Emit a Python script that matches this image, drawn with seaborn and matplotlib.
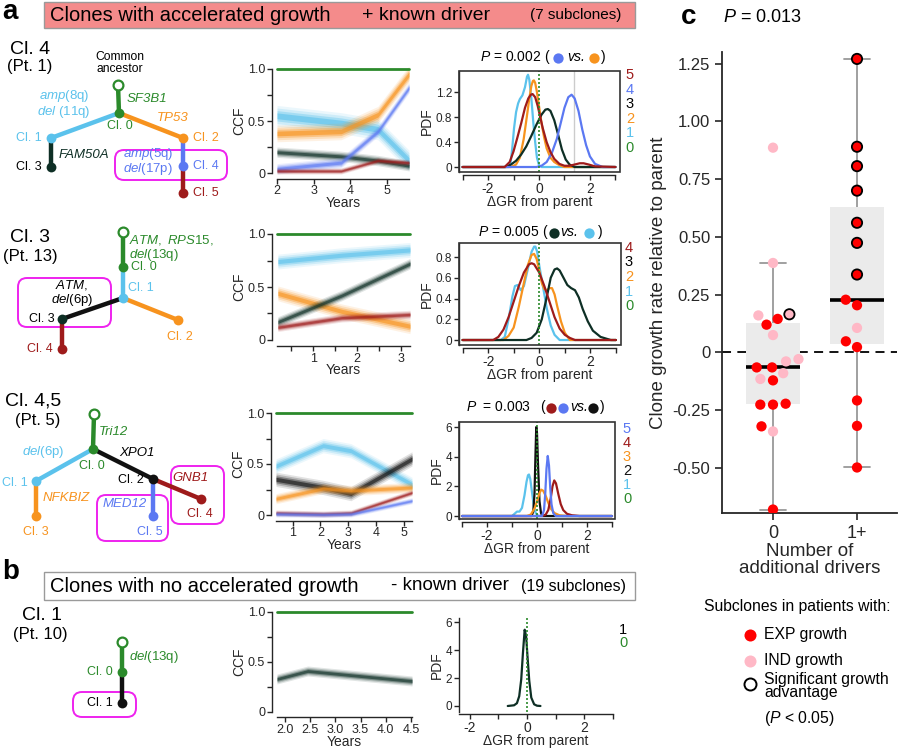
import numpy as np
import pandas as pd
import matplotlib
matplotlib.use("Agg")
import matplotlib.pyplot as plt
import seaborn as sns
from matplotlib.patches import FancyBboxPatch, Rectangle

sns.set_style("ticks")
plt.rcParams["font.family"] = ["Liberation Sans", "DejaVu Sans"]
plt.rcParams["mathtext.fontset"] = "custom"
plt.rcParams["mathtext.rm"] = "Liberation Sans"
plt.rcParams["mathtext.it"] = "Liberation Sans:italic"
plt.rcParams["axes.linewidth"] = 1.0

# ======================= DATA =======================
# ---- panel a, row 1 (Pt. 1): CCF trajectories (posterior centre) ----
r1_years = [2.0, 3.75, 4.75, 5.6]
r1_ccf = {1: [0.55, 0.48, 0.42, 0.12], 2: [0.38, 0.40, 0.56, 0.95],
          3: [0.20, 0.16, 0.12, 0.07], 4: [0.04, 0.10, 0.40, 0.82],
          5: [0.02, 0.02, 0.12, 0.10]}
r1_spread = {1: 0.10, 2: 0.08, 3: 0.05, 4: 0.05, 5: 0.03}
# ---- row 2 (Pt. 13) ----
r2_years = [0.2, 1.65, 3.2]
r2_ccf = {1: [0.74, 0.80, 0.85], 2: [0.44, 0.27, 0.13],
          3: [0.17, 0.42, 0.72], 4: [0.12, 0.21, 0.24]}
r2_spread = {1: 0.07, 2: 0.07, 3: 0.05, 4: 0.04}
# ---- row 3 (Pt. 5) ----
r3_years = [0.4, 2.1, 3.1, 5.3]
r3_ccf = {1: [0.48, 0.68, 0.63, 0.30], 2: [0.35, 0.27, 0.21, 0.55],
          3: [0.16, 0.26, 0.24, 0.27], 4: [0.02, 0.01, 0.02, 0.22],
          5: [0.01, 0.005, 0.01, 0.14]}
r3_spread = {1: 0.07, 2: 0.07, 3: 0.05, 4: 0.03, 5: 0.03}
# ---- panel b (Pt. 10) ----
rb_years = [1.84, 2.45, 4.52]
rb_ccf = {1: [0.33, 0.41, 0.31]}
rb_spread = {1: 0.05}

# ---- posterior densities of delta growth rate ----
r1_pdf = {
    1: ([-3, -1.2, -1.12, -1.05, -0.98, -0.9, -0.82, -0.75, -0.65, -0.55, -0.47, -0.43, -0.38, -0.3, -0.22, -0.15, -0.08, 0.0, 0.1, 3],
        [0, 0, 0.05, 0.3, 0.62, 0.88, 1.02, 1.09, 1.15, 1.28, 1.45, 1.48, 1.4, 1.1, 0.7, 0.4, 0.15, 0.03, 0, 0]),
    2: ([-3, -1.1, -0.9, -0.75, -0.6, -0.48, -0.38, -0.3, -0.24, -0.2, -0.15, -0.08, 0.0, 0.1, 0.2, 0.3, 0.45, 0.6, 0.8, 1.0, 3],
        [0, 0, 0.04, 0.15, 0.45, 0.8, 1.1, 1.3, 1.38, 1.39, 1.35, 1.2, 0.98, 0.7, 0.48, 0.3, 0.15, 0.08, 0.03, 0, 0]),
    3: ([-3, -1.3, -1.1, -0.9, -0.7, -0.5, -0.3, -0.1, 0.1, 0.25, 0.35, 0.45, 0.6, 0.75, 0.9, 1.05, 1.2, 1.4, 3],
        [0, 0, 0.04, 0.1, 0.2, 0.33, 0.5, 0.68, 0.84, 0.92, 0.93, 0.9, 0.75, 0.52, 0.28, 0.12, 0.04, 0.0, 0]),
    4: ([-3, -0.1, 0.1, 0.3, 0.5, 0.7, 0.85, 1.0, 1.15, 1.28, 1.4, 1.55, 1.7, 1.85, 2.0, 2.2, 2.5, 3],
        [0, 0, 0.02, 0.08, 0.22, 0.45, 0.7, 0.95, 1.12, 1.16, 1.1, 0.9, 0.6, 0.35, 0.17, 0.05, 0, 0]),
    5: ([-3, -1.35, -1.15, -1.0, -0.85, -0.7, -0.55, -0.42, -0.32, -0.25, -0.15, -0.05, 0.05, 0.15, 0.3, 0.45, 0.6, 0.8, 1.0, 1.2, 1.4, 1.6, 1.75, 1.95, 2.2, 3],
        [0, 0, 0.08, 0.25, 0.47, 0.7, 0.95, 1.1, 1.16, 1.17, 1.12, 0.98, 0.8, 0.62, 0.4, 0.24, 0.13, 0.05, 0.02, 0.02, 0.04, 0.06, 0.06, 0.04, 0.01, 0]),
}
r2_pdf = {
    1: ([-3, -1.5, -1.35, -1.2, -1.05, -0.95, -0.85, -0.72, -0.6, -0.45, -0.3, -0.2, -0.15, -0.08, 0.0, 0.1, 0.2, 0.3, 0.45, 0.6, 0.8, 3],
        [0, 0, 0.03, 0.2, 0.42, 0.52, 0.53, 0.48, 0.52, 0.68, 0.85, 0.9, 0.9, 0.85, 0.72, 0.58, 0.44, 0.3, 0.14, 0.05, 0, 0]),
    2: ([-3, -1.4, -1.2, -1.0, -0.8, -0.6, -0.45, -0.3, -0.2, -0.1, 0.0, 0.1, 0.2, 0.3, 0.4, 0.5, 0.6, 0.7, 0.85, 1.0, 1.2, 3],
        [0, 0, 0.04, 0.12, 0.32, 0.55, 0.72, 0.82, 0.83, 0.78, 0.67, 0.55, 0.49, 0.48, 0.5, 0.5, 0.44, 0.33, 0.18, 0.07, 0, 0]),
    3: ([-3, -0.5, -0.3, -0.1, 0.1, 0.3, 0.45, 0.6, 0.7, 0.8, 0.95, 1.1, 1.25, 1.4, 1.55, 1.7, 1.9, 2.1, 2.4, 2.8, 3],
        [0, 0, 0.02, 0.07, 0.2, 0.42, 0.6, 0.68, 0.69, 0.67, 0.6, 0.53, 0.5, 0.48, 0.41, 0.3, 0.18, 0.09, 0.03, 0.0, 0]),
    4: ([-3, -1.8, -1.6, -1.4, -1.2, -1.0, -0.8, -0.6, -0.4, -0.3, -0.2, 0.0, 0.2, 0.4, 0.6, 0.8, 1.0, 1.2, 1.4, 3],
        [0, 0, 0.03, 0.1, 0.22, 0.37, 0.52, 0.65, 0.73, 0.74, 0.73, 0.65, 0.52, 0.37, 0.22, 0.11, 0.05, 0.02, 0, 0]),
}
r3_pdf = {
    1: ([-3, -1.0, -0.9, -0.8, -0.7, -0.6, -0.5, -0.42, -0.36, -0.32, -0.27, -0.2, -0.13, -0.05, 0.05, 3],
        [0, 0, 0.15, 0.3, 0.3, 0.55, 1.4, 2.3, 2.75, 2.8, 2.5, 1.6, 0.7, 0.2, 0, 0]),
    2: ([-3, -0.22, -0.15, -0.1, -0.06, -0.03, 0.0, 0.04, 0.1, 0.16, 0.22, 3],
        [0, 0, 0.3, 1.5, 4.2, 6.0, 5.6, 3.5, 1.0, 0.2, 0, 0]),
    3: ([-3, -0.4, -0.25, -0.1, 0.0, 0.1, 0.17, 0.25, 0.35, 0.45, 0.55, 0.7, 0.9, 1.2, 3],
        [0, 0, 0.1, 0.5, 1.0, 1.55, 1.78, 1.7, 1.35, 0.9, 0.5, 0.2, 0.05, 0, 0]),
    4: ([-3, 0.2, 0.35, 0.45, 0.55, 0.62, 0.69, 0.76, 0.85, 0.95, 1.05, 1.2, 1.4, 1.7, 3],
        [0, 0, 0.1, 0.4, 1.2, 2.0, 2.4, 2.2, 1.5, 0.8, 0.4, 0.15, 0.05, 0, 0]),
    5: ([-3, 0.2, 0.28, 0.33, 0.38, 0.43, 0.48, 0.53, 0.58, 0.65, 0.75, 3],
        [0, 0, 0.4, 1.5, 3.2, 4.05, 3.4, 1.9, 0.8, 0.2, 0, 0]),
}
rb_pdf = {
    1: ([-0.67, -0.45, -0.35, -0.27, -0.2, -0.14, -0.08, -0.03, 0.02, 0.08, 0.15, 0.25, 0.35, 0.47],
        [0, 0.05, 0.2, 0.7, 1.9, 3.8, 5.45, 5.0, 3.5, 1.8, 0.6, 0.12, 0.02, 0]),
}

# ---- panel c: growth rate relative to parent ----
c_drivers = ["0"] * 20 + ["1+"] * 15
c_rate = [0.886, 0.387, 0.165, 0.16, 0.145, 0.12, 0.075, -0.029, -0.039, -0.065,
          -0.065, -0.09, -0.115, -0.121, -0.222, -0.226, -0.226, -0.32, -0.342, -0.68,
          1.27, 0.89, 0.806, 0.70, 0.561, 0.474, 0.337, 0.228, 0.204, 0.106,
          0.048, 0.023, -0.208, -0.318, -0.498]
c_growth = ["IND", "IND", "IND", "IND", "EXP", "EXP", "IND", "IND", "IND", "EXP",
            "EXP", "IND", "IND", "EXP", "EXP", "EXP", "EXP", "EXP", "IND", "EXP",
            "EXP", "EXP", "EXP", "EXP", "EXP", "EXP", "EXP", "EXP", "EXP", "IND",
            "EXP", "EXP", "EXP", "EXP", "EXP"]
c_signif = [False, False, True, False, False, False, False, False, False, False,
            False, False, False, False, False, False, False, False, False, False,
            True, True, True, True, True, True, True, False, False, False,
            False, False, False, False, False]

# ======================= STYLE =======================
GREEN = "#2b8a2b"
LBLUE = "#5bc2ec"
ORANGE = "#f7931e"
DARK = "#0e2f25"
BLACK = "#111111"
BLUE = "#5b78f2"
DRED = "#9e1b1b"
MAG = "#ee22ee"

r1_col = {0: GREEN, 1: LBLUE, 2: ORANGE, 3: DARK, 4: BLUE, 5: DRED}
r2_col = {0: GREEN, 1: LBLUE, 2: ORANGE, 3: DARK, 4: DRED}
r3_col = {0: GREEN, 1: LBLUE, 2: BLACK, 3: ORANGE, 4: DRED, 5: BLUE}
rb_col = {0: GREEN, 1: DARK}

W, H = 900, 749
fig = plt.figure(figsize=(9, 7.49), dpi=100)


def rect_px(l, t, r, b):
    return [l / W, 1 - b / H, (r - l) / W, (b - t) / H]


ov = fig.add_axes([0, 0, 1, 1])
ov.set_xlim(0, W)
ov.set_ylim(H, 0)
ov.axis("off")


def txt(x, y, s, c="black", size=9, ha="left", va="center", **kw):
    ov.text(x, y, s, color=c, fontsize=size, ha=ha, va=va, **kw)


# ---------------- headers ----------------
txt(10, 12, "a", size=20, ha="center", weight="bold")
txt(11, 572, "b", size=20, ha="center", weight="bold")
txt(689, 17, "c", size=20, ha="center", weight="bold")
ov.add_patch(Rectangle((44, 2), 591, 26, fc="#f48b8b", ec="#9a9a9a", lw=1))
txt(50, 15.5, "Clones with accelerated growth", size=14.5)
txt(362, 15.5, "+ known driver", size=14)
txt(530, 15.5, "(7 subclones)", size=11)
ov.add_patch(Rectangle((44, 572), 591, 28, fc="white", ec="#9a9a9a", lw=1))
txt(50, 586, "Clones with no accelerated growth", size=14.5)
txt(391, 586, "- known driver", size=13.5)
txt(521, 587, "(19 subclones)", size=11.5)

# ---------------- trees ----------------
def edge(a, b, c):
    ov.plot([a[0], b[0]], [a[1], b[1]], color=c, lw=3.2, solid_capstyle="butt", zorder=2)


def node(p, c, hollow=False):
    ov.scatter([p[0]], [p[1]], s=50, facecolor="white" if hollow else c,
               edgecolor=c, linewidth=1.6 if hollow else 0, zorder=3)


def rbox(x0, y0, x1, y1):
    ov.add_patch(FancyBboxPatch((x0, y0), x1 - x0, y1 - y0,
                                boxstyle="round,pad=0,rounding_size=9",
                                fc="none", ec=MAG, lw=1.4, zorder=1))


IT = dict(fontstyle="italic")
NS = 9  # node label size
MS = 9.5  # mutation label size
LS = 0.92  # line spacing of two-line labels

# tree 1
T = dict(anc=(118, 85), c0=(119, 113), c1=(51, 138), c3=(51, 167),
         c2=(183, 138), c4=(183, 166), c5=(183, 193))
edge(T["anc"], T["c0"], GREEN); edge(T["c0"], T["c1"], LBLUE)
edge(T["c1"], T["c3"], DARK); edge(T["c0"], T["c2"], ORANGE)
edge(T["c2"], T["c4"], BLUE); edge(T["c4"], T["c5"], DRED)
node(T["anc"], GREEN, True); node(T["c0"], GREEN); node(T["c1"], LBLUE)
node(T["c3"], DARK); node(T["c2"], ORANGE); node(T["c4"], BLUE); node(T["c5"], DRED)
rbox(115, 150, 227, 180)
txt(30, 50, "Cl. 4", size=14, ha="center")
txt(30, 67, "(Pt. 1)", size=12, ha="center")
txt(120, 63, "Common\nancestor", size=8.7, ha="center", linespacing=1.0)
txt(127, 99, "SF3B1", GREEN, MS, **IT)
txt(120, 126, "Cl. 0", GREEN, NS, ha="center")
txt(90, 104, "$\\mathit{amp}$(8q)\n$\\mathit{del}$ (11q)", LBLUE, MS, ha="right",
    multialignment="right", linespacing=LS)
txt(42, 138, "Cl. 1", LBLUE, NS, ha="right")
txt(59, 155, "FAM50A", DARK, MS, **IT)
txt(42, 167, "Cl. 3", "black", NS, ha="right")
txt(173, 118, "TP53", ORANGE, MS, ha="center", **IT)
txt(193, 138, "Cl. 2", ORANGE, NS)
txt(193, 166, "Cl. 4", BLUE, NS)
txt(148, 161.5, "$\\mathit{amp}$(5q)\n$\\mathit{del}$(17p)", BLUE, MS, ha="center",
    multialignment="center", linespacing=LS)
txt(193, 193, "Cl. 5", DRED, NS)

# tree 2
T = dict(anc=(123, 232), c0=(123, 267), c1=(123, 298), c2=(178, 320),
         c3=(62, 319), c4=(62, 349))
edge(T["anc"], T["c0"], GREEN); edge(T["c0"], T["c1"], LBLUE)
edge(T["c1"], T["c2"], ORANGE); edge(T["c1"], T["c3"], BLACK)
edge(T["c3"], T["c4"], DRED)
node(T["anc"], GREEN, True); node(T["c0"], GREEN); node(T["c1"], LBLUE)
node(T["c2"], ORANGE); node(T["c3"], DARK); node(T["c4"], DRED)
rbox(18, 278, 111, 327)
txt(30, 238, "Cl. 3", size=14, ha="center")
txt(30, 256, "(Pt. 13)", size=12, ha="center")
txt(129, 248, "$\\mathit{ATM,}$ $\\mathit{RPS15,}$\n$\\mathit{del}$(13q)", GREEN, MS,
    linespacing=LS)
txt(131, 267, "Cl. 0", GREEN, NS)
txt(128, 288, "Cl. 1", LBLUE, NS)
txt(180, 337, "Cl. 2", ORANGE, NS, ha="center")
txt(72, 293, "$\\mathit{ATM,}$\n$\\mathit{del}$(6p)", "black", MS, ha="center",
    multialignment="center", linespacing=LS)
txt(55, 319, "Cl. 3", "black", NS, ha="right")
txt(53, 349, "Cl. 4", DRED, NS, ha="right")

# tree 3
T = dict(anc=(94, 414), c0=(93, 449), c1=(36, 481), c3=(36, 516),
         c2=(153, 479), c5=(153, 516), c4=(201, 499))
edge(T["anc"], T["c0"], GREEN); edge(T["c0"], T["c1"], LBLUE)
edge(T["c1"], T["c3"], ORANGE); edge(T["c0"], T["c2"], BLACK)
edge(T["c2"], T["c5"], BLUE); edge(T["c2"], T["c4"], DRED)
node(T["anc"], GREEN, True); node(T["c0"], GREEN); node(T["c1"], LBLUE)
node(T["c3"], ORANGE); node(T["c2"], BLACK); node(T["c5"], BLUE); node(T["c4"], DRED)
rbox(97, 495, 168, 541)
rbox(171, 466, 224, 524)
txt(33, 401, "Cl. 4,5", size=14, ha="center")
txt(38, 420, "(Pt. 5)", size=12, ha="center")
txt(99, 432, "Tri12", GREEN, MS, **IT)
txt(92, 466, "Cl. 0", GREEN, NS, ha="center")
txt(64, 452, r"$\mathit{del}$(6p)", LBLUE, MS, ha="right")
txt(28, 483, "Cl. 1", LBLUE, NS, ha="right")
txt(43, 498, "NFKBIZ", ORANGE, MS, **IT)
txt(36, 532, "Cl. 3", ORANGE, NS, ha="center")
txt(137, 453, "XPO1", "black", MS, ha="center", **IT)
txt(144, 480, "Cl. 2", "black", NS, ha="right")
txt(125, 504, "MED12", BLUE, MS, ha="center", **IT)
txt(150, 532, "Cl. 5", BLUE, NS, ha="center")
txt(190, 478, "GNB1", DRED, MS, ha="center", **IT)
txt(200, 514, "Cl. 4", DRED, NS, ha="center")

# tree b
T = dict(anc=(122, 642), c0=(122, 672), c1=(122, 703))
edge(T["anc"], T["c0"], GREEN); edge(T["c0"], T["c1"], BLACK)
node(T["anc"], GREEN, True); node(T["c0"], GREEN); node(T["c1"], BLACK)
rbox(73, 692, 136, 717)
txt(42, 615, "Cl. 1", size=14, ha="center")
txt(40, 634, "(Pt. 10)", size=12, ha="center")
txt(129, 657, r"$\mathit{del}$(13q)", GREEN, MS)
txt(113, 672, "Cl. 0", GREEN, NS, ha="right")
txt(113, 703, "Cl. 1", "black", NS, ha="right")


# ---------------- CCF panels ----------------
def ccf_panel(x0, x1, y1px, y0px, xlim, xticks, xlabels, years, ccf, spread, cols):
    h = y0px - y1px
    ax = fig.add_axes(rect_px(x0, y1px - 0.02 * h, x1, y0px + 0.02 * h))
    ax.set_facecolor("none")
    ax.set_xlim(*xlim)
    ax.set_ylim(-0.02, 1.02)
    t = np.array(years, dtype=float)
    for k in ccf:
        m = np.array(ccf[k], dtype=float)
        s = spread[k]
        for w, a in [(1.0, 0.12), (0.75, 0.2), (0.5, 0.35), (0.28, 0.6)]:
            ax.fill_between(t, m - w * s, m + w * s, color=cols[k], alpha=a, lw=0)
    ax.plot(list(xlim), [1.0, 1.0], color=GREEN, lw=2, clip_on=False)
    for sp in ["top", "right"]:
        ax.spines[sp].set_visible(False)
    ax.spines["left"].set_position(("outward", 3.6))
    ax.spines["bottom"].set_position(("outward", 2.5))
    ax.spines["left"].set_bounds(0, 1)
    ax.set_yticks([0, 0.25, 0.5, 0.75, 1.0])
    ax.set_yticklabels(["0", "", "0.5", "", "1.0"], fontsize=9)
    ax.set_xticks(xticks)
    ax.set_xticklabels(xlabels, fontsize=9)
    ax.tick_params(length=3.5, width=1, pad=1.5)
    ax.set_ylabel("CCF", fontsize=10, labelpad=1)
    ax.set_xlabel("Years", fontsize=10, labelpad=-1)
    return ax


ccf_panel(277, 409, 69, 173, (2, 5.6), [2, 3, 4, 5], ["2", "3", "4", "5"],
          r1_years, r1_ccf, r1_spread, r1_col)
ccf_panel(277, 410, 234, 340, (0.18, 3.2), [0.5, 1, 1.5, 2, 2.5, 3],
          ["", "1", "", "2", "", "3"], r2_years, r2_ccf, r2_spread, r2_col)
ccf_panel(276, 412, 413, 515, (0.4, 5.3), [1, 2, 3, 4, 5], ["1", "2", "3", "4", "5"],
          r3_years, r3_ccf, r3_spread, r3_col)
ccf_panel(277, 412, 612, 712, (1.84, 4.52), [2.0, 2.5, 3.0, 3.5, 4.0, 4.5],
          ["2.0", "2.5", "3.0", "3.5", "4.0", "4.5"], rb_years, rb_ccf, rb_spread, rb_col)


# ---------------- PDF panels ----------------
def pdf_panel(l, r, t, b, xlim, ylim, yticks, ylabels, pdfs, cols, box=True,
              xticks=(-3, -2, -1, 0, 1, 2, 3), vline=None):
    ax = fig.add_axes(rect_px(l, t, r, b))
    ax.set_facecolor("none")
    ax.set_xlim(*xlim)
    ax.set_ylim(*ylim)
    if vline is not None:
        ax.axvline(vline, color="#cccccc", lw=1, zorder=1)
    ax.axvline(0, color=GREEN, ls=(0, (1.2, 1.2)), lw=1.2, zorder=4)
    for k in sorted(pdfs):
        xs, ys = pdfs[k]
        ax.plot(xs, ys, color=cols[k], lw=1.6, zorder=3)
    if box:
        ax.add_patch(Rectangle((0, 0), 1, 1, transform=ax.transAxes, fill=False,
                               ec="#333333", lw=1.2, clip_on=False, zorder=5))
        for sp in ["top", "right"]:
            ax.spines[sp].set_visible(False)
        ax.spines["bottom"].set_position(("outward", 2.2))
        ax.spines["bottom"].set_bounds(-3, 3)
    else:
        for sp in ["top", "right"]:
            ax.spines[sp].set_visible(False)
        ax.spines["bottom"].set_position(("outward", 1.5))
    ax.set_yticks(yticks)
    ax.set_yticklabels(ylabels, fontsize=8.5)
    ax.set_xticks(list(xticks))
    ax.set_xticklabels(["-2" if v == -2 else "0" if v == 0 else "2" if v == 2 else ""
                        for v in xticks], fontsize=10)
    ax.tick_params(length=3.5, width=1, pad=1.5)
    ax.set_ylabel("PDF", fontsize=10, labelpad=1)
    ax.set_xlabel("\u0394GR from parent", fontsize=10, labelpad=-1)
    return ax


pdf_panel(459, 620, 71, 172, (-3.14, 3.18), (-0.08, 1.54), [0, 0.4, 0.8, 1.2],
          ["0", "0.4", "0.8", "1.2"], r1_pdf, r1_col, vline=1.37)
pdf_panel(459, 621, 243, 345, (-3.14, 3.2), (-0.048, 0.935), [0, 0.2, 0.4, 0.6, 0.8],
          ["0", "0.2", "0.4", "0.6", "0.8"], r2_pdf, r2_col)
pdf_panel(459, 615, 422, 519, (-3.12, 3.12), (-0.2, 6.34), [0, 2, 4, 6],
          ["0", "2", "4", "6"], r3_pdf, r3_col)
pdf_panel(459, 613, 618, 712, (-2.37, 2.99), (-0.43, 6.29), [0, 2, 4, 6],
          ["0", "2", "4", "6"], rb_pdf, rb_col, box=False, xticks=(-2, -1, 0, 1, 2, 3))

# clone number keys right of the PDFs
def key(x, ytop, step, order, cols):
    for i, k in enumerate(order):
        txt(x, ytop + i * step, str(k), cols[k], 10.5, ha="center")

key(630, 75, 14.6, [5, 4, 3, 2, 1, 0], {**r1_col, 3: "black"})
key(629, 248, 14.5, [4, 3, 2, 1, 0], {**r2_col, 3: "black"})
key(627, 429, 14.0, [5, 4, 3, 2, 1, 0], r3_col)
key(623, 630, 13.0, [1, 0], {0: GREEN, 1: "black"})

# P-value titles
def dot(x, y, c):
    ov.scatter([x], [y], s=55, color=c, lw=0, zorder=3)

PT = 10
txt(480, 57, r"$P$ = 0.002", size=PT); txt(544, 57, "(", size=PT)
dot(558, 58, BLUE); txt(567, 57, "vs.", size=PT, **IT); dot(594, 58, ORANGE)
txt(601, 57, ")", size=PT)
txt(478, 232, r"$P$ = 0.005", size=PT); txt(542, 232, "(", size=PT)
dot(554, 233, DARK); txt(560, 232, "vs.", size=PT, **IT); dot(589, 233, LBLUE)
txt(598, 232, ")", size=PT)
txt(466, 407, r"$P$  = 0.003", size=PT); txt(540, 407, "(", size=PT)
dot(551, 408, DRED); dot(563, 408, BLUE); txt(570, 407, "vs.", size=PT, **IT)
dot(593, 408, BLACK); txt(600, 407, ")", size=PT)

# ---------------- panel c ----------------
axc = fig.add_axes(rect_px(722, 52, 897, 513))
axc.set_facecolor("none")
df_c = pd.DataFrame({"drivers": c_drivers, "rate": c_rate,
                     "growth": c_growth, "signif": c_signif})
axc.axhline(0, color="black", ls=(0, (5, 3.5)), lw=1.3, zorder=0.5)
sns.boxplot(data=df_c, x="drivers", y="rate", order=["0", "1+"], width=0.64,
            showfliers=False, color="#ebebeb", linecolor="#999999", linewidth=1.3,
            boxprops=dict(facecolor="#ebebeb", edgecolor="none"),
            medianprops=dict(color="black", linewidth=2.6),
            ax=axc)
sns.swarmplot(data=df_c, x="drivers", y="rate", order=["0", "1+"], hue="growth",
              hue_order=["EXP", "IND"], palette={"EXP": "#ff0000", "IND": "#ffb8c6"},
              size=7.4, linewidth=0, legend=False, ax=axc, zorder=3)
for coll, grp in zip(axc.collections[-2:], ["0", "1+"]):
    sub = df_c[df_c.drivers == grp]
    sig_map = dict(zip(sub.rate.round(4), sub.signif))
    ys = coll.get_offsets()[:, 1]
    flags = [sig_map.get(round(float(v), 4), False) for v in ys]
    coll.set_edgecolors([(0, 0, 0, 1) if f else (0, 0, 0, 0) for f in flags])
    coll.set_linewidth(1.3)
axc.set_xlim(-0.607, 1.476)
axc.set_ylim(-0.695, 1.30)
axc.set_yticks([-0.5, -0.25, 0, 0.25, 0.5, 0.75, 1.0, 1.25])
axc.set_yticklabels(["-0.50", "-0.25", "0", "0.25", "0.50", "0.75", "1.00", "1.25"],
                    fontsize=12)
axc.set_xticks([0, 1])
axc.set_xticklabels(["0", "1+"], fontsize=13)
axc.tick_params(length=5, width=1.2)
for sp in ["top", "right"]:
    axc.spines[sp].set_visible(False)
axc.spines["left"].set_linewidth(1.3)
axc.spines["bottom"].set_linewidth(1.3)
axc.set_ylabel("Clone growth rate relative to parent", fontsize=13.5, labelpad=4)
axc.set_xlabel("Number of\nadditional drivers", fontsize=13.5, labelpad=1,
               linespacing=0.95)
txt(723, 18, r"$P$ = 0.013", size=13)

# legend of panel c
txt(797, 607, "Subclones in patients with:", size=11.3, ha="center")
ov.scatter([750], [635], s=75, color="#ff0000", lw=0)
ov.scatter([750], [661], s=75, color="#ffb8c6", lw=0)
ov.scatter([750], [684], s=75, facecolor="white", edgecolor="black", lw=1.4)
txt(764, 635, "EXP growth", size=11.3)
txt(764, 660, "IND growth", size=11.3)
txt(764, 686, "Significant growth\nadvantage", size=11.3, linespacing=0.85)
txt(764, 718, r"($P$ < 0.05)", size=11.3)

fig.savefig("out.png", dpi=100)
